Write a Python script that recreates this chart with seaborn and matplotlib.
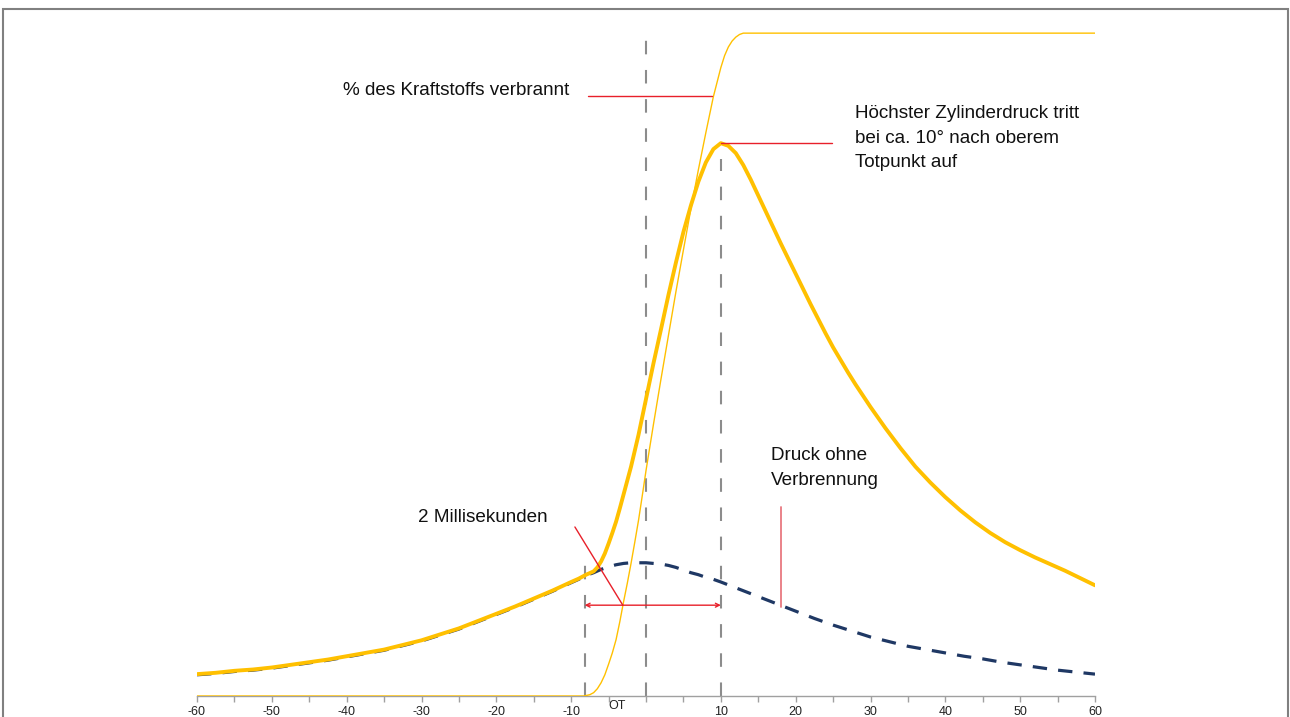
import numpy as np
import pandas as pd
import seaborn as sns
import matplotlib.pyplot as plt
from matplotlib.patches import Rectangle

# crank angle (degrees) and curves (arbitrary units, 100 = fully burned)
crank_comb = [-60, -57.5, -55, -52.5, -50, -47.5, -45, -42.5, -40, -37.5, -35, -32.5, -30, -27.5, -25,
              -22.5, -20, -17.5, -15, -12.5, -10, -9, -8, -7, -6.5, -6, -5.5, -5, -4.5, -4, -3.5, -3,
              -2, -1, 0, 1, 2, 3, 4, 5, 6, 7, 8, 9, 10, 11, 12, 13, 14, 15, 16, 17, 18, 19, 20,
              21, 22, 23, 24, 25, 26, 27, 28, 29, 30, 32, 34, 36, 38, 40, 42, 44, 46, 48, 50,
              52, 54, 56, 58, 60]
pressure_comb = [3.3, 3.5, 3.8, 4.0, 4.3, 4.7, 5.1, 5.5, 6.0, 6.5, 7.0, 7.7, 8.4, 9.3, 10.2,
                 11.3, 12.4, 13.5, 14.7, 15.9, 17.2, 17.7, 18.3, 18.8, 19.4, 20.3, 21.5, 23.0, 24.6, 26.3,
                 28.3, 30.4, 34.6, 39.4, 44.8, 50.2, 55.3, 60.5, 65.4, 70.0, 74.0, 77.6, 80.5, 82.5,
                 83.4, 83.0, 81.9, 80.1, 77.9, 75.5, 73.1, 70.7, 68.3, 66.0, 63.7, 61.4, 59.1, 56.9,
                 54.7, 52.6, 50.7, 48.8, 47.0, 45.3, 43.6, 40.4, 37.4, 34.6, 32.2, 30.0, 28.0, 26.2,
                 24.6, 23.2, 22.0, 20.9, 19.9, 18.9, 17.8, 16.7]

# motored pressure: runs just under the combustion curve before ignition, dashed afterwards
crank_motored = [-60, -57.5, -55, -52.5, -50, -47.5, -45, -42.5, -40, -37.5, -35, -32.5, -30, -27.5,
                 -25, -22.5, -20, -17.5, -15, -12.5, -10, -9, -8,
                 -7, -6, -5, -4, -3, -2, -1, 0, 1, 2, 3, 4, 5, 6, 7, 8, 9, 10, 12.5, 15, 17.5, 20,
                 22.5, 25, 27.5, 30, 32.5, 35, 37.5, 40, 42.5, 45, 47.5, 50, 52.5, 55, 57.5, 60]
pressure_motored = [3.2, 3.4, 3.7, 3.9, 4.2, 4.6, 5.0, 5.4, 5.9, 6.4, 6.9, 7.6, 8.3, 9.2,
                    10.1, 11.2, 12.3, 13.4, 14.6, 15.8, 17.1, 17.6, 18.2,
                    18.6, 19.1, 19.5, 19.8, 20.0, 20.1, 20.1, 20.1, 20.0, 19.9, 19.7, 19.4, 19.0, 18.6,
                    18.3, 17.9, 17.6, 17.2, 16.1, 15.0, 13.9, 12.8, 11.7, 10.7, 9.8, 8.9, 8.2, 7.5,
                    7.0, 6.5, 6.0, 5.6, 5.1, 4.7, 4.3, 3.9, 3.6, 3.3]

crank_burn = [-60, -30, -8.3, -7.5, -7, -6.5, -6, -5.5, -5, -4.5, -4, -3.5, -3, -2.5, -2, -1.5, -1,
              -0.5, 0, 1, 2, 3, 4, 5, 6, 7, 8, 9, 10, 10.5, 11, 11.5, 12, 12.5, 13, 60]
fuel_burned = [0, 0, 0, 0.2, 0.5, 1.1, 2.0, 3.2, 4.8, 6.5, 8.5, 11.2, 14.2, 17.0, 20.0, 23.2, 26.5,
               30.2, 34.0, 41.0, 47.8, 54.4, 61.0, 67.3, 73.5, 79.4, 85.0, 90.4, 94.8, 96.6, 97.9,
               98.8, 99.4, 99.8, 100, 100]

# reference lines: start of burn, OT, peak pressure
ref_x = [-8.2, 0, 10]
ref_top = [19.8, 100, 81.0]

tick_vals = [-60, -50, -40, -30, -20, -10, 10, 20, 30, 40, 50, 60]

GOLD = "#FFC000"
NAVY = "#1F3864"
RED = "#E8202A"
GREY = "#8C8C8C"


def main():
    sns.set_theme(style="white")
    plt.rcParams['font.family'] = ['Liberation Sans', 'DejaVu Sans']

    fig = plt.figure(figsize=(12.9, 7.17), dpi=100)
    ax = fig.add_axes([197 / 1290, 21 / 717, 898 / 1290, 696 / 717])

    # vertical dashed reference lines
    for x, top in zip(ref_x, ref_top):
        ax.plot([x, x], [0, top], color=GREY, lw=1.5, linestyle=(0, (6.5, 7.5)), zorder=1)

    comb = pd.DataFrame({"Kurbelwinkel": crank_comb, "Druck": pressure_comb})
    mot = pd.DataFrame({"Kurbelwinkel": crank_motored, "Druck": pressure_motored})
    burn = pd.DataFrame({"Kurbelwinkel": crank_burn, "Verbrannt": fuel_burned})

    sns.lineplot(data=burn, x="Kurbelwinkel", y="Verbrannt", ax=ax, color=GOLD, linewidth=1.0, zorder=3)
    sns.lineplot(data=mot, x="Kurbelwinkel", y="Druck", ax=ax, color=NAVY, linewidth=2.3,
                 linestyle=(0, (4.5, 3.5)), zorder=2)
    sns.lineplot(data=comb, x="Kurbelwinkel", y="Druck", ax=ax, color=GOLD, linewidth=2.8, zorder=4)

    fs = 13.6
    # annotations
    ax.plot([-7.8, 8.8], [90.5, 90.5], color=RED, lw=1.0, zorder=5)
    ax.text(-10.2, 91.4, "% des Kraftstoffs verbrannt", ha="right", va="center", fontsize=fs, color="#111111")

    ax.plot([10, 24.9], [83.4, 83.4], color=RED, lw=1.0, zorder=5)
    ax.text(27.9, 89.2, "Höchster Zylinderdruck tritt\nbei ca. 10° nach oberem\nTotpunkt auf",
            ha="left", va="top", fontsize=fs, color="#111111", linespacing=1.6)

    ax.plot([18.0, 18.0], [28.5, 13.4], color="#E87880", lw=1.3, zorder=5)
    ax.text(16.7, 37.5, "Druck ohne\nVerbrennung", ha="left", va="top", fontsize=fs, color="#111111",
            linespacing=1.6)

    ax.plot([-9.5, -3.1], [25.5, 13.7], color=RED, lw=1.0, zorder=5)
    ax.text(-30.5, 27.0, "2 Millisekunden", ha="left", va="center", fontsize=fs, color="#111111")
    ax.annotate("", xy=(-8.2, 13.7), xytext=(10, 13.7),
                arrowprops=dict(arrowstyle="<->", color=RED, lw=1.0, mutation_scale=7,
                                shrinkA=0, shrinkB=0), zorder=5)

    # axes styling
    ax.set_xlim(-60, 60)
    ax.set_ylim(0, 105)
    for side in ["left", "right", "top"]:
        ax.spines[side].set_visible(False)
    ax.spines["bottom"].set_color("#A0A0A0")
    ax.spines["bottom"].set_linewidth(1.0)
    ax.set_yticks([])
    ticks = np.arange(-60, 61, 5)
    ax.set_xticks(ticks)
    ax.set_xticklabels([str(v) if v in tick_vals else "" for v in ticks])
    ax.tick_params(axis="x", bottom=True, length=4, width=1, color="#A0A0A0", pad=3,
                   labelsize=9, labelcolor="#222222")
    ax.set_xlabel("")
    ax.set_ylabel("")
    ax.annotate("OT", xy=(-3.9, 0), xycoords="data", xytext=(0, -10), textcoords="offset pixels",
                ha="center", va="center", fontsize=9, color="#222222", annotation_clip=False)

    # grey frame around the figure
    fig.patches.append(Rectangle((3 / 1290, -0.02), 1285 / 1290, 1 - 9 / 717 + 0.02,
                                 transform=fig.transFigure, fill=False, edgecolor="#808080", lw=1.5))

    fig.savefig("out.png", dpi=100)


if __name__ == "__main__":
    main()
